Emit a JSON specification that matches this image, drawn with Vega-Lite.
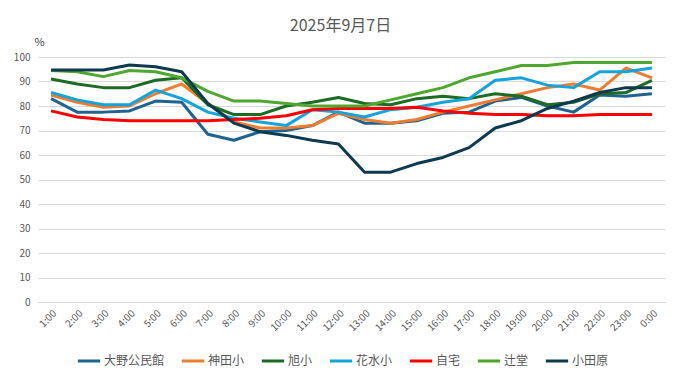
{
  "$schema": "https://vega.github.io/schema/vega-lite/v6.json",
  "width": 627,
  "height": 245,
  "autosize": {"type": "none"},
  "padding": {"left": 38, "top": 57, "right": 16, "bottom": 77},
  "background": "white",
  "config": {
    "font": "Noto Sans CJK JP",
    "view": {"stroke": null}
  },
  "title": {
    "text": "2025年9月7日",
    "fontSize": 16,
    "fontWeight": "normal",
    "color": "#595959",
    "anchor": "middle",
    "frame": "group",
    "dx": -11,
    "offset": 2
  },
  "data": {
    "values": [
      {"t":"1:00","s":"大野公民館","v":83},{"t":"2:00","s":"大野公民館","v":77.5},{"t":"3:00","s":"大野公民館","v":77.5},{"t":"4:00","s":"大野公民館","v":78},{"t":"5:00","s":"大野公民館","v":82},{"t":"6:00","s":"大野公民館","v":81.5},{"t":"7:00","s":"大野公民館","v":68.5},{"t":"8:00","s":"大野公民館","v":66},{"t":"9:00","s":"大野公民館","v":69.5},{"t":"10:00","s":"大野公民館","v":70},{"t":"11:00","s":"大野公民館","v":72},{"t":"12:00","s":"大野公民館","v":77.5},{"t":"13:00","s":"大野公民館","v":73},{"t":"14:00","s":"大野公民館","v":73},{"t":"15:00","s":"大野公民館","v":74},{"t":"16:00","s":"大野公民館","v":77},{"t":"17:00","s":"大野公民館","v":77.5},{"t":"18:00","s":"大野公民館","v":82},{"t":"19:00","s":"大野公民館","v":83.5},{"t":"20:00","s":"大野公民館","v":80},{"t":"21:00","s":"大野公民館","v":77.5},{"t":"22:00","s":"大野公民館","v":84.5},{"t":"23:00","s":"大野公民館","v":84},{"t":"0:00","s":"大野公民館","v":85},
      {"t":"1:00","s":"神田小","v":84.5},{"t":"2:00","s":"神田小","v":81.5},{"t":"3:00","s":"神田小","v":79.5},{"t":"4:00","s":"神田小","v":80},{"t":"5:00","s":"神田小","v":85},{"t":"6:00","s":"神田小","v":89},{"t":"7:00","s":"神田小","v":81},{"t":"8:00","s":"神田小","v":73.5},{"t":"9:00","s":"神田小","v":71},{"t":"10:00","s":"神田小","v":71},{"t":"11:00","s":"神田小","v":72},{"t":"12:00","s":"神田小","v":77},{"t":"13:00","s":"神田小","v":74.5},{"t":"14:00","s":"神田小","v":73},{"t":"15:00","s":"神田小","v":74.5},{"t":"16:00","s":"神田小","v":77.5},{"t":"17:00","s":"神田小","v":80},{"t":"18:00","s":"神田小","v":82.5},{"t":"19:00","s":"神田小","v":85},{"t":"20:00","s":"神田小","v":87.5},{"t":"21:00","s":"神田小","v":89},{"t":"22:00","s":"神田小","v":86.5},{"t":"23:00","s":"神田小","v":95.5},{"t":"0:00","s":"神田小","v":91.5},
      {"t":"1:00","s":"旭小","v":91},{"t":"2:00","s":"旭小","v":89},{"t":"3:00","s":"旭小","v":87.5},{"t":"4:00","s":"旭小","v":87.5},{"t":"5:00","s":"旭小","v":90.5},{"t":"6:00","s":"旭小","v":91.5},{"t":"7:00","s":"旭小","v":80.5},{"t":"8:00","s":"旭小","v":76.5},{"t":"9:00","s":"旭小","v":76.5},{"t":"10:00","s":"旭小","v":80},{"t":"11:00","s":"旭小","v":81.5},{"t":"12:00","s":"旭小","v":83.5},{"t":"13:00","s":"旭小","v":81},{"t":"14:00","s":"旭小","v":80.5},{"t":"15:00","s":"旭小","v":83},{"t":"16:00","s":"旭小","v":84},{"t":"17:00","s":"旭小","v":83},{"t":"18:00","s":"旭小","v":85},{"t":"19:00","s":"旭小","v":84},{"t":"20:00","s":"旭小","v":80.5},{"t":"21:00","s":"旭小","v":81.5},{"t":"22:00","s":"旭小","v":85},{"t":"23:00","s":"旭小","v":85.5},{"t":"0:00","s":"旭小","v":90.5},
      {"t":"1:00","s":"花水小","v":85.5},{"t":"2:00","s":"花水小","v":82.5},{"t":"3:00","s":"花水小","v":80.5},{"t":"4:00","s":"花水小","v":80.5},{"t":"5:00","s":"花水小","v":86.5},{"t":"6:00","s":"花水小","v":83},{"t":"7:00","s":"花水小","v":77.5},{"t":"8:00","s":"花水小","v":75},{"t":"9:00","s":"花水小","v":73.5},{"t":"10:00","s":"花水小","v":72},{"t":"11:00","s":"花水小","v":78.5},{"t":"12:00","s":"花水小","v":77.5},{"t":"13:00","s":"花水小","v":75.5},{"t":"14:00","s":"花水小","v":78.5},{"t":"15:00","s":"花水小","v":79.5},{"t":"16:00","s":"花水小","v":81.5},{"t":"17:00","s":"花水小","v":83},{"t":"18:00","s":"花水小","v":90.5},{"t":"19:00","s":"花水小","v":91.5},{"t":"20:00","s":"花水小","v":88.5},{"t":"21:00","s":"花水小","v":87.5},{"t":"22:00","s":"花水小","v":94},{"t":"23:00","s":"花水小","v":94},{"t":"0:00","s":"花水小","v":95.5},
      {"t":"1:00","s":"自宅","v":78},{"t":"2:00","s":"自宅","v":75.5},{"t":"3:00","s":"自宅","v":74.5},{"t":"4:00","s":"自宅","v":74},{"t":"5:00","s":"自宅","v":74},{"t":"6:00","s":"自宅","v":74},{"t":"7:00","s":"自宅","v":74},{"t":"8:00","s":"自宅","v":74.5},{"t":"9:00","s":"自宅","v":75},{"t":"10:00","s":"自宅","v":76},{"t":"11:00","s":"自宅","v":78.5},{"t":"12:00","s":"自宅","v":79},{"t":"13:00","s":"自宅","v":79},{"t":"14:00","s":"自宅","v":79},{"t":"15:00","s":"自宅","v":79.5},{"t":"16:00","s":"自宅","v":78},{"t":"17:00","s":"自宅","v":77},{"t":"18:00","s":"自宅","v":76.5},{"t":"19:00","s":"自宅","v":76.5},{"t":"20:00","s":"自宅","v":76},{"t":"21:00","s":"自宅","v":76},{"t":"22:00","s":"自宅","v":76.5},{"t":"23:00","s":"自宅","v":76.5},{"t":"0:00","s":"自宅","v":76.5},
      {"t":"1:00","s":"辻堂","v":94.5},{"t":"2:00","s":"辻堂","v":94},{"t":"3:00","s":"辻堂","v":92},{"t":"4:00","s":"辻堂","v":94.5},{"t":"5:00","s":"辻堂","v":94},{"t":"6:00","s":"辻堂","v":91.5},{"t":"7:00","s":"辻堂","v":86},{"t":"8:00","s":"辻堂","v":82},{"t":"9:00","s":"辻堂","v":82},{"t":"10:00","s":"辻堂","v":81},{"t":"11:00","s":"辻堂","v":80},{"t":"12:00","s":"辻堂","v":80},{"t":"13:00","s":"辻堂","v":80},{"t":"14:00","s":"辻堂","v":82.5},{"t":"15:00","s":"辻堂","v":85},{"t":"16:00","s":"辻堂","v":87.5},{"t":"17:00","s":"辻堂","v":91.5},{"t":"18:00","s":"辻堂","v":94},{"t":"19:00","s":"辻堂","v":96.5},{"t":"20:00","s":"辻堂","v":96.5},{"t":"21:00","s":"辻堂","v":97.8},{"t":"22:00","s":"辻堂","v":97.8},{"t":"23:00","s":"辻堂","v":97.8},{"t":"0:00","s":"辻堂","v":97.8},
      {"t":"1:00","s":"小田原","v":94.7},{"t":"2:00","s":"小田原","v":94.7},{"t":"3:00","s":"小田原","v":94.7},{"t":"4:00","s":"小田原","v":96.7},{"t":"5:00","s":"小田原","v":96},{"t":"6:00","s":"小田原","v":94},{"t":"7:00","s":"小田原","v":81},{"t":"8:00","s":"小田原","v":73},{"t":"9:00","s":"小田原","v":69.5},{"t":"10:00","s":"小田原","v":68},{"t":"11:00","s":"小田原","v":66},{"t":"12:00","s":"小田原","v":64.5},{"t":"13:00","s":"小田原","v":53},{"t":"14:00","s":"小田原","v":53},{"t":"15:00","s":"小田原","v":56.5},{"t":"16:00","s":"小田原","v":59},{"t":"17:00","s":"小田原","v":63},{"t":"18:00","s":"小田原","v":71},{"t":"19:00","s":"小田原","v":74},{"t":"20:00","s":"小田原","v":79},{"t":"21:00","s":"小田原","v":82},{"t":"22:00","s":"小田原","v":85.5},{"t":"23:00","s":"小田原","v":87.5},{"t":"0:00","s":"小田原","v":87.5}
    ]
  },
  "mark": {"type": "line", "strokeWidth": 3, "strokeJoin": "round"},
  "encoding": {
    "x": {
      "field": "t",
      "type": "nominal",
      "sort": null,
      "scale": {"type": "point", "padding": 0.5},
      "axis": {
        "title": null,
        "labelAngle": -45,
        "labelColor": "#595959",
        "labelFontSize": 10,
        "ticks": false,
        "labelPadding": 6,
        "domainColor": "#d9d9d9",
        "domainWidth": 1,
        "grid": false
      }
    },
    "y": {
      "field": "v",
      "type": "quantitative",
      "scale": {"domain": [0, 100], "nice": false},
      "axis": {
        "title": "%",
        "titleAngle": 0,
        "titleX": -4,
        "titleY": -10,
        "titleAlign": "left",
        "titleBaseline": "bottom",
        "titleFontWeight": "normal",
        "titleFontSize": 11,
        "titleColor": "#404040",
        "values": [0,10,20,30,40,50,60,70,80,90,100],
        "labelColor": "#595959",
        "labelFontSize": 10,
        "labelPadding": 8,
        "ticks": false,
        "domain": false,
        "gridColor": "#d9d9d9",
        "gridWidth": 1
      }
    },
    "color": {
      "field": "s",
      "type": "nominal",
      "sort": ["大野公民館","神田小","旭小","花水小","自宅","辻堂","小田原"],
      "scale": {
        "domain": ["大野公民館","神田小","旭小","花水小","自宅","辻堂","小田原"],
        "range": ["#1F6391","#ED7D31","#1E6B24","#14A3DA","#FF0000","#4EA72E","#0E3A4F"]
      },
      "legend": {
        "title": null,
        "orient": "none",
        "legendX": 38,
        "legendY": 291,
        "direction": "horizontal",
        "symbolType": "stroke",
        "symbolStrokeWidth": 3,
        "symbolSize": 500,
        "labelColor": "#595959",
        "labelFontSize": 12,
        "labelOffset": 2,
        "columnPadding": 10
      }
    }
  }
}
